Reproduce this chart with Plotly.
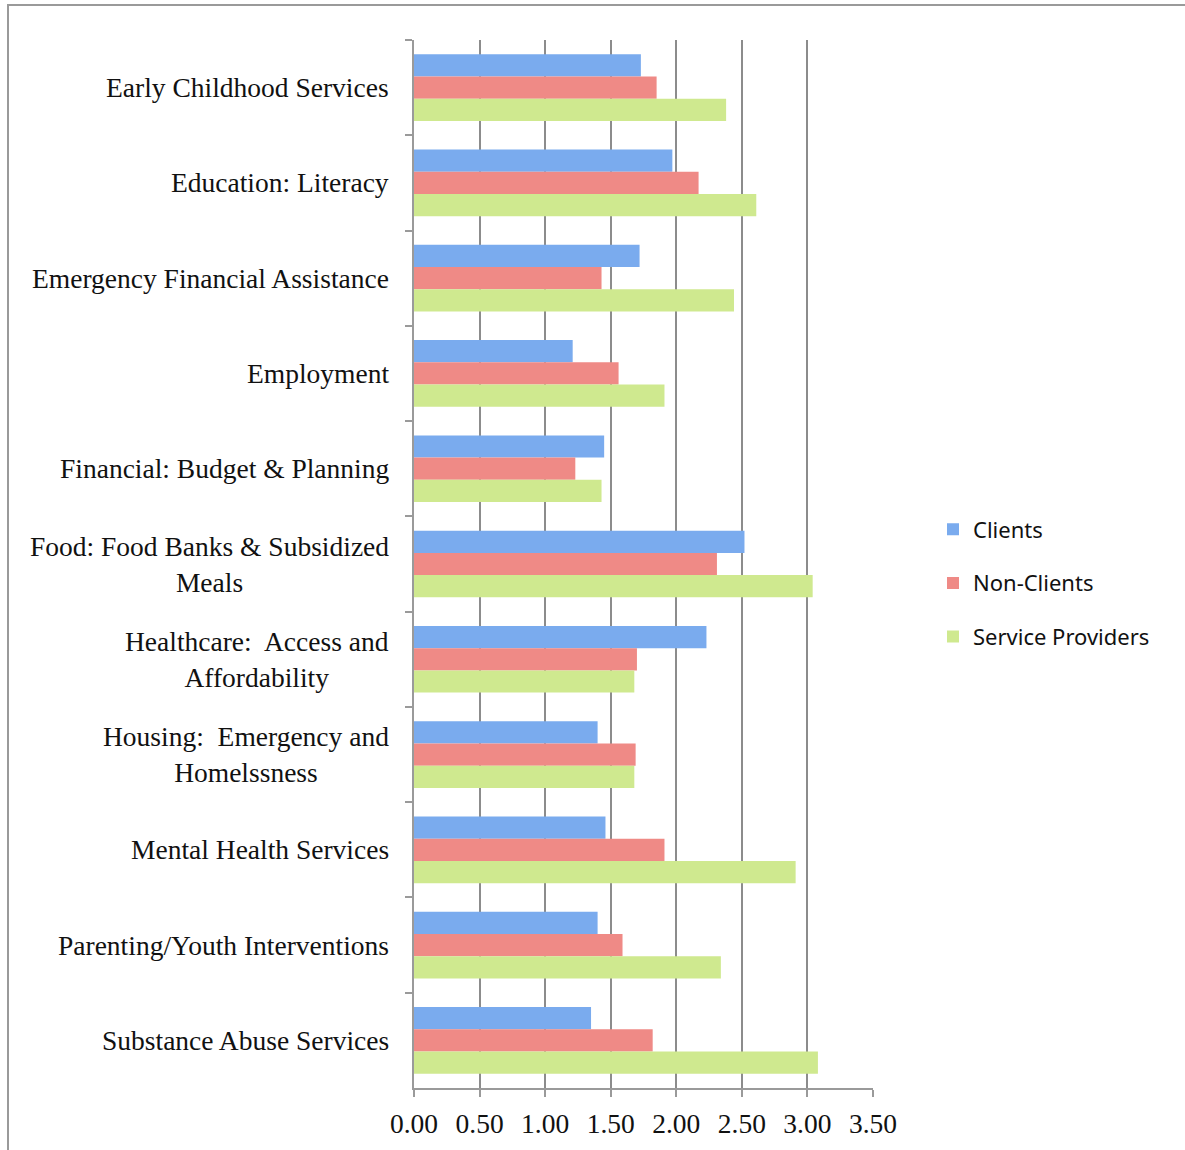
import plotly.graph_objects as go

categories = [
    "Early Childhood Services",
    "Education: Literacy",
    "Emergency Financial Assistance",
    "Employment",
    "Financial: Budget & Planning",
    "Food: Food Banks & Subsidized<br>Meals",
    "Healthcare:  Access and<br>Affordability",
    "Housing:  Emergency and<br>Homelssness",
    "Mental Health Services",
    "Parenting/Youth Interventions",
    "Substance Abuse Services",
]
clients = [1.73, 1.97, 1.72, 1.21, 1.45, 2.52, 2.23, 1.40, 1.46, 1.40, 1.35]
non_clients = [1.85, 2.17, 1.43, 1.56, 1.23, 2.31, 1.70, 1.69, 1.91, 1.59, 1.82]
service_providers = [2.38, 2.61, 2.44, 1.91, 1.43, 3.04, 1.68, 1.68, 2.91, 2.34, 3.08]
x_ticks = [0.0, 0.5, 1.0, 1.5, 2.0, 2.5, 3.0, 3.5]

series = [
    ("Clients", clients, "#7aabee"),
    ("Non-Clients", non_clients, "#ef8a86"),
    ("Service Providers", service_providers, "#cfe98f"),
]

fig = go.Figure()
for name, vals, col in series:
    fig.add_trace(go.Bar(
        y=categories, x=vals, name=name, orientation="h",
        marker=dict(color=col, line=dict(width=0)),
        legendgroup=name,
    ))

serif = "Liberation Serif"
W, H = 1185, 1150
L, R, T, B = 414, 873, 40, 1088
pw, ph = R - L, B - T

def px(x):
    return (x - L) / pw

def py(y):
    return (B - y) / ph

shapes = [
    dict(type="line", xref="paper", yref="paper", x0=px(8), x1=px(8), y0=py(1150), y1=py(5),
         line=dict(color="#9a9a9a", width=2)),
    dict(type="line", xref="paper", yref="paper", x0=px(7), x1=px(1185), y0=py(5), y1=py(5),
         line=dict(color="#9a9a9a", width=2)),
]

annotations = []
for c in categories:
    annotations.append(dict(
        x=px(391), y=c, xref="paper", yref="y", text=c, showarrow=False,
        xanchor="right", yanchor="middle", align="center",
        font=dict(family=serif, size=27.5, color="#111"),
    ))

fig.update_layout(
    width=W, height=H,
    margin=dict(l=L, r=W - R, t=T, b=H - B),
    paper_bgcolor="white", plot_bgcolor="white",
    barmode="group", bargap=0.3, bargroupgap=0,
    showlegend=True,
    legend=dict(x=px(933), y=py(583), xanchor="left", yanchor="middle",
                font=dict(family="Noto Sans", size=22, color="#111"),
                tracegroupgap=22, traceorder="grouped"),
    xaxis=dict(range=[0, 3.5], tickvals=x_ticks, tickformat=".2f",
               showgrid=True, gridcolor="#8c8c8c", gridwidth=2,
               showline=True, linecolor="#9a9a9a", linewidth=2,
               ticks="outside", ticklen=7, tickcolor="#9a9a9a", tickwidth=2,
               ticklabelstandoff=3,
               tickfont=dict(family=serif, size=27.5, color="#111"),
               zeroline=False, fixedrange=True),
    yaxis=dict(autorange="reversed", showticklabels=False,
               showline=True, linecolor="#9a9a9a", linewidth=2,
               ticks="outside", ticklen=7, tickcolor="#9a9a9a", tickwidth=2,
               tickson="boundaries", showgrid=False, fixedrange=True),
    shapes=shapes,
    annotations=annotations,
)

fig.write_html("out.html")
